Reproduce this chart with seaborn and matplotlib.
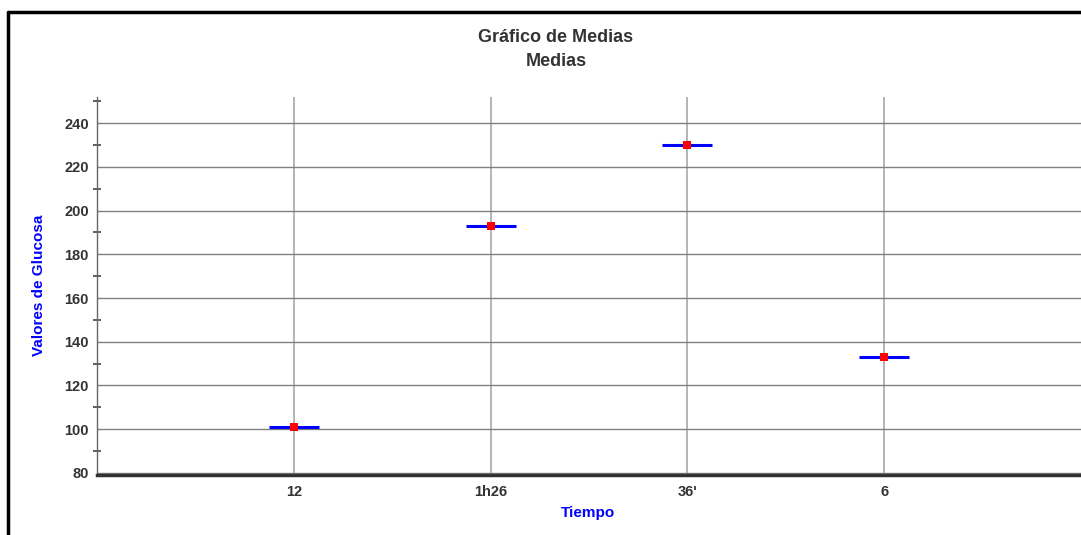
import seaborn as sns
import matplotlib.pyplot as plt
import pandas as pd
from matplotlib.lines import Line2D

tiempo = ["12", "1h26", "36'", "6"]
medias = [101, 193, 230, 133]

df = pd.DataFrame({"Tiempo": tiempo, "Media": medias})

sns.set_style("white")
plt.rcParams["font.family"] = ["Liberation Sans", "DejaVu Sans"]

fig = plt.figure(figsize=(10.81, 5.35), dpi=100)
ax = fig.add_axes([97 / 1081, 1 - 475 / 535, (1081 - 97) / 1081, (475 - 97) / 535])

# horizontal blue mean bars, then red square markers
sns.scatterplot(data=df, x="Tiempo", y="Media", marker="_", s=1300, color="#0000ff",
                linewidth=2.2, ax=ax, zorder=3)
sns.scatterplot(data=df, x="Tiempo", y="Media", marker="s", s=28, color="#ff0000",
                linewidth=0, ax=ax, zorder=4)

ax.set_xlim(-1, 4)
ax.set_ylim(79, 252)
ax.set_yticks(range(80, 241, 20))
ax.set_yticks(range(90, 251, 20), minor=True)

ax.grid(axis="y", which="major", color="#808080", linewidth=1)
ax.grid(axis="x", color="#a8a8a8", linewidth=1.2)
ax.set_axisbelow(True)

for s in ["top", "right"]:
    ax.spines[s].set_visible(False)
ax.spines["left"].set_color("#666666")
ax.spines["left"].set_linewidth(1)
ax.spines["bottom"].set_color("#333333")
ax.spines["bottom"].set_linewidth(2.5)

ax.tick_params(axis="y", which="major", direction="inout", length=8, width=1, color="#444444",
               labelsize=10.5, labelcolor="#333333", pad=2)
ax.tick_params(axis="y", which="minor", direction="inout", length=6, width=1.2, color="#444444", left=True)
ax.tick_params(axis="x", direction="inout", length=6, color="#444444", labelsize=10.5,
               labelcolor="#333333", pad=4)
for lab in ax.get_xticklabels() + ax.get_yticklabels():
    lab.set_fontweight("bold")

ax.set_xlabel("Tiempo", color="#0000ff", fontweight="bold", fontsize=11)
ax.set_ylabel("Valores de Glucosa", color="#0000ff", fontweight="bold", fontsize=11)
ax.xaxis.set_label_coords((588 - 97) / (1081 - 97), -(506 - 475) / (475 - 97))
ax.yaxis.set_label_coords(-(97 - 46) / (1081 - 97), (475 - 285) / (475 - 97))

fig.text(556 / 1081, 1 - 38 / 535, "Gráfico de Medias", ha="center", va="center",
         fontsize=13, fontweight="bold", color="#333333")
fig.text(556 / 1081, 1 - 61 / 535, "Medias", ha="center", va="center",
         fontsize=13, fontweight="bold", color="#333333")

# outer border (top and left)
fig.add_artist(Line2D([8 / 1081, 1], [1 - 12 / 535, 1 - 12 / 535], color="black", linewidth=2.5))
fig.add_artist(Line2D([8 / 1081, 8 / 1081], [0, 1 - 12 / 535], color="black", linewidth=2.5))

fig.savefig("out.png", dpi=100)
